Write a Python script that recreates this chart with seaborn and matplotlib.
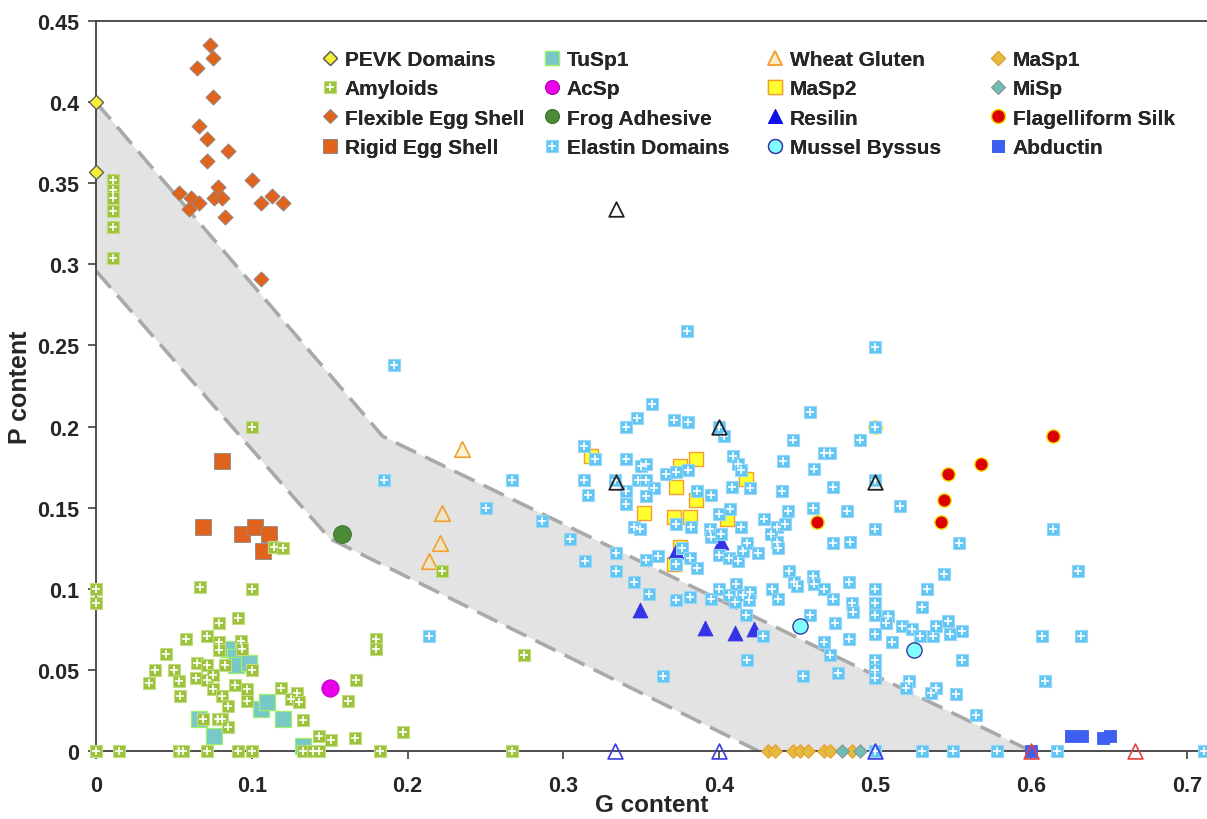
import matplotlib
matplotlib.use("Agg")
import matplotlib.pyplot as plt
from matplotlib.lines import Line2D
from matplotlib.legend_handler import HandlerTuple
import seaborn as sns

sns.set_theme(style="white")
plt.rcParams['font.family'] = ['Liberation Sans', 'DejaVu Sans']

# shaded band (G content, P content)
band_upper_g = [0, 0.184, 0.6]
band_upper_p = [0.4, 0.194, 0]
band_lower_g = [0, 0.150, 0.425]
band_lower_p = [0.296, 0.131, 0]

pevk_g = [0, 0]
pevk_p = [0.4, 0.357]

amy_g = [0.011, 0.011, 0.011, 0.011, 0.011, 0.011, 0.100, 0, 0, 0.067, 0.100, 0.114, 0.120,
         0.079, 0.091, 0.058, 0.071, 0.079, 0.093, 0.079, 0.094, 0.045, 0.038, 0.050, 0.034,
         0.053, 0.054, 0.065, 0.071, 0.064, 0.071, 0.075, 0.075, 0.081, 0.085, 0.083, 0.089,
         0.097, 0.097, 0.100, 0.069, 0.078, 0.081, 0.085, 0.119, 0.125, 0.129, 0.130, 0.133,
         0.143, 0.151, 0.162, 0.167, 0.166, 0.180, 0.180, 0.197, 0.222, 0.275,
         0, 0.015, 0.053, 0.056, 0.071, 0.091, 0.100, 0.133, 0.139, 0.143, 0.182, 0.267]
amy_p = [0.352, 0.346, 0.341, 0.333, 0.323, 0.304, 0.200, 0.100, 0.091, 0.101, 0.100, 0.126, 0.125,
         0.079, 0.082, 0.069, 0.071, 0.067, 0.068, 0.062, 0.063, 0.060, 0.050, 0.050, 0.042,
         0.043, 0.034, 0.054, 0.053, 0.045, 0.044, 0.047, 0.038, 0.034, 0.028, 0.053, 0.041,
         0.038, 0.031, 0.050, 0.020, 0.020, 0.020, 0.015, 0.039, 0.032, 0.036, 0.030, 0.019,
         0.009, 0.007, 0.031, 0.044, 0.008, 0.069, 0.063, 0.012, 0.111, 0.059,
         0, 0, 0, 0, 0, 0, 0, 0, 0, 0, 0, 0]

flex_g = [0.073, 0.075, 0.065, 0.075, 0.066, 0.071, 0.085, 0.071, 0.100, 0.053, 0.061,
          0.066, 0.078, 0.076, 0.081, 0.060, 0.083, 0.106, 0.113, 0.120, 0.106]
flex_p = [0.435, 0.427, 0.421, 0.403, 0.385, 0.377, 0.370, 0.364, 0.352, 0.344, 0.341,
          0.338, 0.348, 0.341, 0.341, 0.334, 0.329, 0.338, 0.342, 0.338, 0.291]

rigid_g = [0.081, 0.069, 0.094, 0.102, 0.111, 0.107]
rigid_p = [0.179, 0.138, 0.134, 0.138, 0.134, 0.123]

tusp1_g = [0.085, 0.089, 0.090, 0.098, 0.066, 0.076, 0.106, 0.110, 0.120, 0.133]
tusp1_p = [0.063, 0.058, 0.053, 0.054, 0.020, 0.009, 0.026, 0.030, 0.020, 0.003]

acsp_g = [0.150]
acsp_p = [0.039]

frog_g = [0.158]
frog_p = [0.134]

elastin_g = [0.185, 0.191, 0.379, 0.357, 0.347, 0.340, 0.371, 0.380, 0.403, 0.447, 0.500, 0.458,
             0.490, 0.500, 0.313, 0.320, 0.340, 0.350, 0.353, 0.366, 0.372, 0.380, 0.409, 0.412,
             0.414, 0.441, 0.461, 0.313, 0.316, 0.340, 0.348, 0.353, 0.358, 0.353, 0.340, 0.386,
             0.395, 0.408, 0.420, 0.440, 0.345, 0.349, 0.372, 0.382, 0.400, 0.407, 0.394, 0.395,
             0.401, 0.414, 0.429, 0.437, 0.442, 0.433, 0.437, 0.438, 0.444, 0.460, 0.304, 0.334,
             0.314, 0.334, 0.353, 0.361, 0.376, 0.381, 0.386, 0.372, 0.400, 0.406, 0.412, 0.415,
             0.418, 0.425, 0.445, 0.448, 0.450, 0.460, 0.461, 0.345, 0.355, 0.372, 0.381, 0.395,
             0.400, 0.406, 0.411, 0.410, 0.415, 0.420, 0.419, 0.434, 0.438, 0.417, 0.458, 0.267,
             0.250, 0.286, 0.214, 0.428, 0.418, 0.364, 0.454, 0.467, 0.471, 0.473, 0.482, 0.500,
             0.516, 0.473, 0.484, 0.554, 0.467, 0.473, 0.483, 0.500, 0.500, 0.485, 0.486, 0.500,
             0.508, 0.507, 0.544, 0.533, 0.530, 0.517, 0.524, 0.529, 0.537, 0.539, 0.547, 0.548,
             0.556, 0.474, 0.467, 0.483, 0.500, 0.511, 0.471, 0.500, 0.500, 0.500, 0.476, 0.522,
             0.520, 0.539, 0.536, 0.556, 0.552, 0.565, 0.614, 0.630, 0.607, 0.632, 0.609, 0.333,
             0.400, 0.500, 0.500, 0.530, 0.550, 0.578, 0.617, 0.711]
elastin_p = [0.167, 0.238, 0.259, 0.214, 0.205, 0.200, 0.204, 0.203, 0.194, 0.192, 0.249, 0.209,
             0.192, 0.200, 0.188, 0.180, 0.180, 0.176, 0.177, 0.171, 0.172, 0.173, 0.182, 0.177,
             0.173, 0.179, 0.174, 0.167, 0.158, 0.160, 0.167, 0.167, 0.162, 0.157, 0.152, 0.160,
             0.158, 0.163, 0.162, 0.160, 0.138, 0.137, 0.140, 0.138, 0.146, 0.149, 0.137, 0.132,
             0.134, 0.138, 0.143, 0.138, 0.140, 0.134, 0.129, 0.125, 0.148, 0.150, 0.131, 0.122,
             0.117, 0.111, 0.118, 0.120, 0.125, 0.119, 0.113, 0.115, 0.121, 0.119, 0.117, 0.123,
             0.128, 0.122, 0.111, 0.104, 0.102, 0.108, 0.103, 0.104, 0.097, 0.093, 0.095, 0.094,
             0.100, 0.096, 0.103, 0.092, 0.096, 0.098, 0.093, 0.100, 0.094, 0.084, 0.084, 0.167,
             0.150, 0.142, 0.071, 0.071, 0.056, 0.046, 0.046, 0.184, 0.184, 0.163, 0.148, 0.137,
             0.151, 0.128, 0.129, 0.128, 0.100, 0.094, 0.104, 0.100, 0.091, 0.091, 0.086, 0.084,
             0.083, 0.079, 0.109, 0.100, 0.089, 0.077, 0.075, 0.071, 0.071, 0.077, 0.080, 0.072,
             0.074, 0.079, 0.067, 0.069, 0.072, 0.067, 0.059, 0.056, 0.050, 0.045, 0.048, 0.043,
             0.039, 0.039, 0.036, 0.056, 0.035, 0.022, 0.137, 0.111, 0.071, 0.071, 0.043, 0.167,
             0.200, 0.167, 0, 0, 0, 0, 0, 0]

wheat_g = [0.235, 0.222, 0.221, 0.214]
wheat_p = [0.186, 0.147, 0.128, 0.117]

masp2_g = [0.318, 0.375, 0.385, 0.372, 0.417, 0.385, 0.352, 0.371, 0.381, 0.405, 0.375, 0.371]
masp2_p = [0.182, 0.176, 0.180, 0.163, 0.168, 0.155, 0.147, 0.144, 0.144, 0.143, 0.126, 0.115]

resilin_g = [0.372, 0.401, 0.349, 0.391, 0.410, 0.422]
resilin_p = [0.123, 0.129, 0.087, 0.076, 0.073, 0.075]

mussel_g = [0.452, 0.525]
mussel_p = [0.077, 0.062]

masp1_g = [0.431, 0.436, 0.447, 0.452, 0.457, 0.467, 0.471, 0.485]
masp1_p = [0, 0, 0, 0, 0, 0, 0, 0]

misp_g = [0.479, 0.490]
misp_p = [0, 0]

flag_g = [0.500, 0.463, 0.542, 0.544, 0.547, 0.568, 0.614]
flag_p = [0.200, 0.141, 0.141, 0.155, 0.171, 0.177, 0.194]

abductin_g = [0.600, 0.626, 0.633, 0.646, 0.651]
abductin_p = [0, 0.009, 0.009, 0.008, 0.009]

# open triangles not listed in the key
tri_black_g = [0.334, 0.334, 0.400, 0.500]
tri_black_p = [0.334, 0.166, 0.200, 0.166]
tri_blue_g = [0.333, 0.400, 0.500]
tri_blue_p = [0, 0, 0]
tri_red_g = [0.600, 0.667]
tri_red_p = [0, 0]

fig = plt.figure(figsize=(12.07, 8.2), dpi=100)
ax = fig.add_axes([0.0795, 0.0829, 0.9205, 0.8902])

ax.fill(band_upper_g + band_lower_g[::-1], band_upper_p + band_lower_p[::-1],
        color='#e3e3e3', lw=0, zorder=1)
for gg, pp in [(band_upper_g, band_upper_p), (band_lower_g, band_lower_p)]:
    ax.plot(gg, pp, color='#a9a9a9', lw=2.6, ls=(0, (6.2, 2.8)), zorder=1.5)


def dots(g, p, marker, s, fc, ec, lw=0.8, z=3):
    sns.scatterplot(x=g, y=p, marker=marker, s=s, color=fc, edgecolor=ec, linewidth=lw,
                    ax=ax, zorder=z, clip_on=False, legend=False)


def plus_dots(g, p, fc, ec, z):
    dots(g, p, 's', 82, fc, ec, 0.8, z)
    dots(g, p, '+', 28, 'white', 'white', 1.2, z + 0.01)


dots(pevk_g, pevk_p, 'D', 52, '#f5ee38', '#555555', 0.9)
dots(flex_g, flex_p, 'D', 60, '#e0641e', '#8a8a8a', 0.6)
dots(rigid_g, rigid_p, 's', 140, '#e0641e', '#8a8a8a', 0.6)
dots(tusp1_g, tusp1_p, 's', 125, '#78c8c8', '#9cf06a', 0.9)
plus_dots(amy_g, amy_p, '#9cc23c', '#c2dc80', 3.2)
dots(acsp_g, acsp_p, 'o', 155, '#e800e8', '#b000b0', 0.6)
dots(frog_g, frog_p, 'o', 165, '#4c8a38', '#3a7030', 0.6)
dots(wheat_g, wheat_p, '^', 125, (0.98, 0.9, 0.65, 0.45), '#f0a030', 1.2)
dots(masp2_g, masp2_p, 's', 100, '#ffff30', '#f0a030', 1.0)
dots(resilin_g, resilin_p, '^', 115, '#3434e6', '#3434e6', 0.6)
dots(flag_g, flag_p, 'o', 92, '#dd0000', '#f0e000', 1.0)
plus_dots(elastin_g, elastin_p, '#62c6f4', '#98d6f6', 3.6)
dots(tri_black_g, tri_black_p, '^', 110, (1, 1, 1, 0), '#222222', 1.3, 4)
dots(mussel_g, mussel_p, 'o', 120, '#80ffff', '#3838a0', 1.0, 4)
dots(masp1_g, masp1_p, 'D', 48, '#e2bc3c', '#eb9a30', 0.8, 4)
dots(misp_g, misp_p, 'D', 48, '#6ebdb5', '#8a8a8a', 0.6, 4)
dots(abductin_g, abductin_p, 's', 70, '#3e5ff0', '#3e5ff0', 0.6, 4)
dots(tri_blue_g, tri_blue_p, '^', 115, (1, 1, 1, 0), '#3a3ae8', 1.2, 5)
dots(tri_red_g, tri_red_p, '^', 115, (1, 1, 1, 0), '#e84040', 1.2, 5)

ax.set_xlim(0, 0.713)
ax.set_ylim(0, 0.45)
ax.set_xticks([0, 0.1, 0.2, 0.3, 0.4, 0.5, 0.6, 0.7])
ax.set_xticklabels(['0', '0.1', '0.2', '0.3', '0.4', '0.5', '0.6', '0.7'])
ax.set_yticks([0, 0.05, 0.1, 0.15, 0.2, 0.25, 0.3, 0.35, 0.4, 0.45])
ax.set_yticklabels(['0', '0.05', '0.1', '0.15', '0.2', '0.25', '0.3', '0.35', '0.4', '0.45'])
ax.tick_params(axis='x', bottom=True, length=6, width=1.2, color='#404040', pad=11,
               labelsize=15.5)
ax.tick_params(axis='y', left=True, length=6, width=1.2, color='#404040', pad=6,
               labelsize=15.5)
for lab in ax.get_xticklabels() + ax.get_yticklabels():
    lab.set_fontweight('bold')
for side in ['left', 'bottom', 'top']:
    ax.spines[side].set_color('#404040')
    ax.spines[side].set_linewidth(1.3)
ax.spines['right'].set_visible(False)

ax.set_xlabel('G content', fontsize=17.5, fontweight='bold')
ax.set_ylabel('P content', fontsize=18, fontweight='bold')
ax.xaxis.set_label_coords(0.5, -0.058)
ax.yaxis.set_label_coords(-0.058, 0.5)


def key(marker, ms, fc, ec, mew=0.8):
    return Line2D([], [], ls='none', marker=marker, markersize=ms, markerfacecolor=fc,
                  markeredgecolor=ec, markeredgewidth=mew)


def plus_key(fc, ec):
    return (key('s', 9, fc, ec), key('+', 5.5, 'white', 'white', 1.2))


columns = [
    [('PEVK Domains', key('D', 7, '#f5ee38', '#555555', 0.9)),
     ('Amyloids', plus_key('#9cc23c', '#c2dc80')),
     ('Flexible Egg Shell', key('D', 7, '#e0641e', '#8a8a8a', 0.6)),
     ('Rigid Egg Shell', key('s', 9.5, '#e0641e', '#8a8a8a', 0.6))],
    [('TuSp1', key('s', 9.5, '#78c8c8', '#9cf06a', 0.9)),
     ('AcSp', key('o', 10, '#e800e8', '#b000b0', 0.6)),
     ('Frog Adhesive', key('o', 10, '#4c8a38', '#3a7030', 0.6)),
     ('Elastin Domains', plus_key('#62c6f4', '#98d6f6'))],
    [('Wheat Gluten', key('^', 10.5, (0.98, 0.9, 0.65, 0.45), '#f0a030', 1.2)),
     ('MaSp2', key('s', 9.5, '#ffff30', '#f0a030', 1.0)),
     ('Resilin', key('^', 10.5, '#1010e8', '#1010e8', 0.6)),
     ('Mussel Byssus', key('o', 10, '#80ffff', '#3838a0', 1.0))],
    [('MaSp1', key('D', 7, '#e2bc3c', '#eb9a30', 0.8)),
     ('MiSp', key('D', 7, '#6ebdb5', '#8a8a8a', 0.6)),
     ('Flagelliform Silk', key('o', 10, '#dd0000', '#f0e000', 1.0)),
     ('Abductin', key('s', 9, '#3e5ff0', '#3e5ff0', 0.6))],
]
col_left = [0.2668, 0.4507, 0.6355, 0.8202]
for left, col in zip(col_left, columns):
    leg = fig.legend([h for _, h in col], [t for t, _ in col], loc='upper left',
                     bbox_to_anchor=(left, 0.938), frameon=False, borderpad=0,
                     borderaxespad=0, handlelength=0.8, handletextpad=0.3,
                     labelspacing=0.5, prop={'size': 15, 'weight': 'bold'},
                     handler_map={tuple: HandlerTuple(ndivide=1)})
    fig.add_artist(leg)

fig.savefig('out.png', dpi=100)
